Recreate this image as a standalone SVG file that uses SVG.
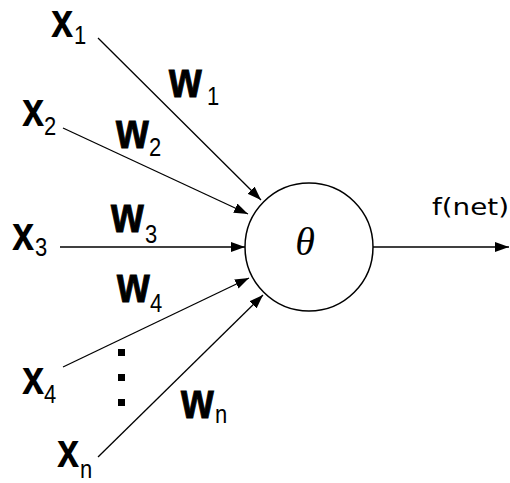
<svg xmlns="http://www.w3.org/2000/svg" width="510" height="483" viewBox="0 0 510 483">
<style>
.v{font-family:"Liberation Sans",Arial,sans-serif;font-weight:bold;font-size:40px;fill:#000}
.w{font-family:"Liberation Sans",Arial,sans-serif;font-weight:bold;font-size:42px;fill:#000;stroke:#000;stroke-width:0.8}
.s{font-family:"Liberation Sans",Arial,sans-serif;font-size:22px;fill:#000}
.c{stroke:#000;stroke-width:1.3;fill:none}
</style>
<defs>
<marker id="ah" markerUnits="userSpaceOnUse" markerWidth="15" markerHeight="11" refX="14" refY="5" orient="auto">
<path d="M0,0 L14,5 L0,10 z" fill="#000"/>
</marker>
</defs>
<rect width="510" height="483" fill="#fff"/>
<g id="connectors">
<line class="c" x1="98" y1="38" x2="261" y2="200" marker-end="url(#ah)"/>
<line class="c" x1="63" y1="128" x2="248" y2="214" marker-end="url(#ah)"/>
<line class="c" x1="60" y1="247" x2="245" y2="247" marker-end="url(#ah)"/>
<line class="c" x1="63" y1="367" x2="249" y2="278" marker-end="url(#ah)"/>
<line class="c" x1="98" y1="457" x2="263" y2="295" marker-end="url(#ah)"/>
<line class="c" x1="373" y1="247" x2="509" y2="247" marker-end="url(#ah)"/>
</g>
<g id="neuron">
<circle cx="309" cy="247" r="64" fill="#fff" stroke="#000" stroke-width="1.5"/>
<text x="305" y="255" text-anchor="middle" font-family="'Liberation Serif','Times New Roman',serif" font-style="italic" font-size="40">θ</text>
</g>
<g id="output-label">
<text x="432" y="215" font-family="'DejaVu Sans',Tahoma,sans-serif" font-size="23" textLength="77" lengthAdjust="spacingAndGlyphs">f(net)</text>
</g>
<g id="x1">
<text class="v" transform="translate(51,37) scale(1,1.2)">x</text>
<text class="s" transform="translate(74,44) scale(1,1.2)">1</text>
</g>
<g id="x2">
<text class="v" transform="translate(22,126) scale(1,1.2)">x</text>
<text class="s" transform="translate(44,135) scale(1,1.2)">2</text>
</g>
<g id="x3">
<text class="v" transform="translate(12,250) scale(1,1.2)">x</text>
<text class="s" transform="translate(35,256) scale(1,1.2)">3</text>
</g>
<g id="x4">
<text class="v" transform="translate(22,394) scale(1,1.2)">x</text>
<text class="s" transform="translate(44,403) scale(1,1.2)">4</text>
</g>
<g id="xn">
<text class="v" transform="translate(57,467) scale(1,1.2)">x</text>
<text class="s" transform="translate(80,478) scale(1,1.2)">n</text>
</g>
<g id="w1">
<text class="w" transform="translate(169,97) scale(1,1.2)">w</text>
<text class="s" transform="translate(207,105) scale(1,1.2)">1</text>
</g>
<g id="w2">
<text class="w" transform="translate(116,148) scale(1,1.2)">w</text>
<text class="s" transform="translate(149,156) scale(1,1.2)">2</text>
</g>
<g id="w3">
<text class="w" transform="translate(111,232) scale(1,1.2)">w</text>
<text class="s" transform="translate(145,243) scale(1,1.2)">3</text>
</g>
<g id="w4">
<text class="w" transform="translate(117,302) scale(1,1.2)">w</text>
<text class="s" transform="translate(150,312) scale(1,1.2)">4</text>
</g>
<g id="wn">
<text class="w" transform="translate(181,418) scale(1,1.2)">w</text>
<text class="s" transform="translate(215,423) scale(1,1.2)">n</text>
</g>
<g id="ellipsis">
<rect x="118" y="349" width="7" height="7" fill="#000"/>
<rect x="118" y="374" width="7" height="7" fill="#000"/>
<rect x="118" y="399" width="7" height="7" fill="#000"/>
</g>
</svg>
